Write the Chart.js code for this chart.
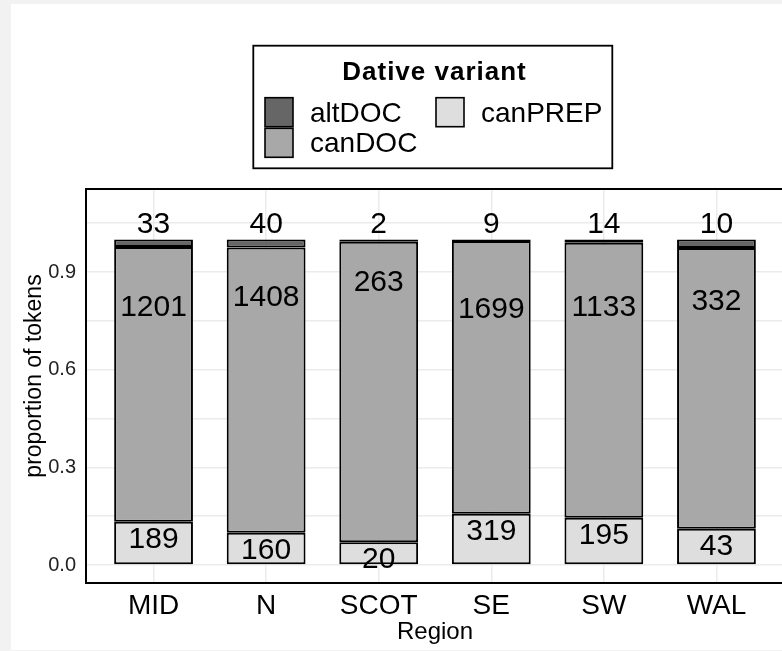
<!DOCTYPE html>
<html>
<head>
<meta charset="utf-8">
<title>Dative variant by region</title>
<script src="https://cdn.jsdelivr.net/npm/chart.js@4/dist/chart.umd.min.js"></script>
<style>
html, body { margin: 0; padding: 0; background: #f2f2f2; overflow: hidden; width: 782px; height: 651px; }
#wrap { position: absolute; left: 11px; top: 4px; width: 776px; height: 646px; background: #fff; }
</style>
</head>
<body>
<div id="wrap"><canvas id="myChart" width="776" height="646"></canvas></div>
<script>
const regions = ['MID', 'N', 'SCOT', 'SE', 'SW', 'WAL'];
const altDOC = [33, 40, 2, 9, 14, 10];
const canDOC = [1201, 1408, 263, 1699, 1133, 332];
const canPREP = [189, 160, 20, 319, 195, 43];
const yTicks = [0, 0.3, 0.6, 0.9];
const yMinor = [0.15, 0.45, 0.75, 1.05];
const legendOrder = ['altDOC', 'canDOC', 'canPREP'];

const FONT = '"Liberation Sans", Arial, Helvetica, sans-serif';

const totals = regions.map((r, i) => altDOC[i] + canDOC[i] + canPREP[i]);
const toProp = counts => counts.map((c, i) => ({ x: i, y: c / totals[i] }));

// labelAt: null -> label hangs from the segment's own proportion, number -> fixed y
function series(label, counts, color, labelAt) {
    return {
        label: label,
        data: toProp(counts),
        counts: counts,
        labelAt: labelAt,
        backgroundColor: color,
        borderColor: '#000',
        borderWidth: 2,
        borderSkipped: false,
        barPercentage: 0.7,
        categoryPercentage: 1
    };
}

const labelsPlugin = {
    id: 'labels',
    afterDatasetsDraw(chart) {
        const { ctx, chartArea: a, scales: { x, y } } = chart;
        ctx.save();
        ctx.font = '30px ' + FONT;
        ctx.fillStyle = '#000';
        ctx.textAlign = 'center';
        ctx.textBaseline = 'alphabetic';
        chart.data.datasets.forEach(d => {
            d.counts.forEach((c, i) => {
                const at = d.labelAt === null ? d.data[i].y : d.labelAt;
                ctx.fillText(String(c), x.getPixelForValue(i), y.getPixelForValue(at) + 26);
            });
        });
        // panel border
        ctx.strokeStyle = '#000';
        ctx.lineWidth = 2;
        ctx.strokeRect(a.left, a.top, a.right - a.left, a.bottom - a.top);
        ctx.restore();
    },
    afterDraw(chart) {
        const ctx = chart.ctx;
        const a = chart.chartArea;
        ctx.save();
        // y axis title, sits a little above the panel middle
        ctx.save();
        ctx.translate(24, (a.top + a.bottom) / 2 - 10);
        ctx.rotate(-Math.PI / 2);
        ctx.font = '23px ' + FONT;
        ctx.fillStyle = '#000';
        ctx.textAlign = 'center';
        ctx.textBaseline = 'middle';
        ctx.fillText('proportion of tokens', 0, 0);
        ctx.restore();
        // legend box
        ctx.strokeStyle = '#000';
        ctx.lineWidth = 1.8;
        ctx.strokeRect(242.3, 41.7, 359, 122.6);
        ctx.fillStyle = '#000';
        ctx.textAlign = 'center';
        ctx.font = 'bold 26px ' + FONT;
        ctx.letterSpacing = '1px';
        ctx.fillText('Dative variant', 423.5, 76);
        ctx.letterSpacing = '0px';
        ctx.textAlign = 'left';
        ctx.font = '28px ' + FONT;
        ctx.lineWidth = 1.6;
        legendOrder.forEach((name, k) => {
            const d = chart.data.datasets.find(s => s.label === name);
            const kx = 254 + Math.floor(k / 2) * 171;
            const ky = 93.7 + (k % 2) * 30.6;
            ctx.fillStyle = d.backgroundColor;
            ctx.fillRect(kx, ky, 28, 29);
            ctx.strokeRect(kx, ky, 28, 29);
            ctx.fillStyle = '#000';
            ctx.fillText(name, kx + 45, ky + 24);
        });
        ctx.restore();
    }
};

const ctx = document.getElementById('myChart').getContext('2d');
const chart = new Chart(ctx, {
    type: 'bar',
    data: {
        datasets: [
            series('canPREP', canPREP, '#dedede', null),
            series('canDOC', canDOC, '#a8a8a8', null),
            series('altDOC', altDOC, '#666666', 1.1)
        ]
    },
    options: {
        responsive: false,
        animation: false,
        layout: { padding: { top: 185, right: 3, left: 0, bottom: 0 } },
        plugins: { legend: { display: false }, tooltip: { enabled: false } },
        scales: {
            x: {
                type: 'linear',
                offset: false,
                stacked: true,
                min: -0.6,
                max: 5.6,
                afterBuildTicks: s => { s.ticks = regions.map((r, i) => ({ value: i })); },
                afterFit: s => { s.height = 67; },
                ticks: {
                    callback: v => regions[v],
                    color: '#000',
                    padding: 6,
                    maxRotation: 0,
                    autoSkip: false,
                    font: { family: FONT, size: 28 }
                },
                grid: { color: '#ebebeb', lineWidth: 1.5, drawTicks: false, offset: false },
                border: { display: false },
                title: {
                    display: true,
                    text: 'Region',
                    color: '#000',
                    font: { family: FONT, size: 24 },
                    padding: { top: 0, bottom: 3 }
                }
            },
            y: {
                stacked: true,
                min: -0.055,
                max: 1.155,
                afterBuildTicks: s => {
                    s.ticks = yTicks.concat(yMinor).sort((p, q) => p - q).map(v => ({ value: v }));
                },
                afterFit: s => { s.width = 75; },
                ticks: {
                    callback: v => yTicks.includes(v) ? v.toFixed(1) : '',
                    color: '#222',
                    padding: 10,
                    font: { family: FONT, size: 20 }
                },
                grid: { color: '#ebebeb', lineWidth: 1.5, drawTicks: false },
                border: { display: false },
                title: { display: false }
            }
        }
    },
    plugins: [labelsPlugin]
});
</script>
</body>
</html>
